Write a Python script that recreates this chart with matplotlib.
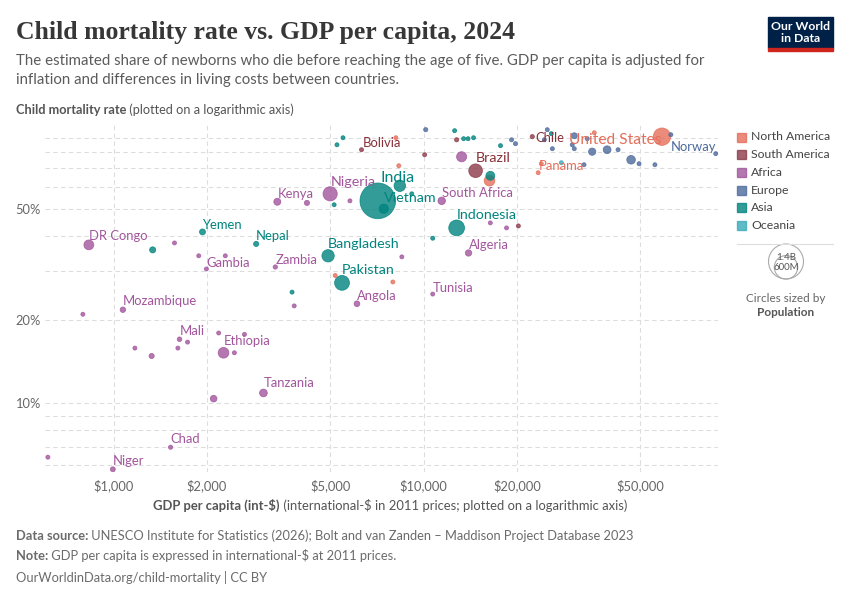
import matplotlib
matplotlib.use("Agg")
import matplotlib.pyplot as plt
from matplotlib.patches import Rectangle, Circle
import numpy as np

plt.rcParams['font.family'] = ['Lato', 'DejaVu Sans']

continents = ["North America", "South America", "Africa", "Europe", "Asia", "Oceania"]
fill_colors = {"North America": "#E56E5A", "South America": "#8C3A48", "Africa": "#A2559C",
               "Europe": "#4C6A9C", "Asia": "#00847E", "Oceania": "#38AABA"}
label_colors = {"North America": "#E56E5A", "South America": "#883039", "Africa": "#A2559C",
                "Europe": "#4C6A9C", "Asia": "#00847E", "Oceania": "#38AABA"}

# gdp per capita (int-$), child mortality (%), population (millions)
na_names = ["United States", "", "", "", "Panama", "", "", "", ""]
na_gdp = [58700, 16300, 8310, 8130, 23400, 23950, 35500, 5180, 7950]
na_mort = [90.8, 63.1, 71.4, 90.0, 67.4, 72.6, 93.8, 28.8, 27.3]
na_pop = [345, 130, 10, 6, 4.5, 6, 6, 6, 6]

sa_names = ["Bolivia", "", "", "Brazil", "Chile", ""]
sa_gdp = [6300, 10070, 12770, 14700, 22400, 20200]
sa_mort = [81.5, 78.2, 88.5, 68.5, 90.8, 43.4]
sa_pop = [12, 7, 20, 212, 20, 7]

africa_names = ["DR Congo", "Kenya", "", "Nigeria", "", "South Africa", "", "Algeria", "", "",
                "Tunisia", "Angola", "", "Zambia", "Gambia", "", "", "", "Mozambique", "",
                "Mali", "", "", "", "", "", "", "Ethiopia", "", "Tanzania", "", "Chad", "Niger",
                "", ""]
africa_gdp = [831, 3370, 4200, 4990, 5780, 11430, 13250, 13950, 16400, 18500,
              10690, 6090, 8500, 3320, 1990, 1880, 2290, 1570, 1070, 795,
              1630, 1730, 1170, 1610, 1325, 2180, 2640, 2260, 2450, 3040, 2100, 1525, 993,
              613, 3820]
africa_mort = [37.1, 53.0, 52.5, 56.6, 53.4, 53.4, 76.9, 34.7, 44.5, 42.7,
               24.7, 22.8, 33.6, 30.9, 30.4, 33.9, 33.9, 37.7, 21.7, 20.9,
               17.0, 16.6, 15.8, 15.8, 14.8, 17.9, 17.7, 15.2, 15.2, 10.9, 10.4, 6.96, 5.80,
               6.41, 22.4]
africa_pop = [110, 56, 30, 230, 12, 64, 116, 46, 8, 8,
              12, 37, 10, 21, 3, 9, 9, 7, 34, 7,
              24, 8, 14, 10, 30, 8, 7, 130, 9, 68, 50, 20, 27,
              12, 14]

europe_names = [""] * 18 + ["Norway"]
europe_gdp = [10150, 19200, 19760, 25040, 24490, 26000, 30600, 30140, 30600, 33700,
              34950, 39050, 42360, 32900, 46660, 49500, 55700, 62700, 87500]
europe_mort = [96.2, 88.5, 85.7, 96.2, 88.5, 82.2, 91.5, 84.9, 82.2, 89.3,
               80.2, 81.5, 81.5, 72.0, 75.0, 72.6, 72.0, 92.3, 78.9]
europe_pop = [20, 6, 6, 10, 6, 6, 40, 12, 6, 6,
              60, 69, 9, 10, 84, 9, 6, 6, 5.5]

asia_names = ["India", "", "Vietnam", "", "", "Yemen", "", "Nepal", "Bangladesh", "Pakistan",
              "", "Indonesia", "", "", "", "", "", "", "", "", "", ""]
asia_gdp = [7110, 8370, 7435, 5140, 9150, 1933, 1335, 2880, 4914, 5450,
            3760, 12770, 10690, 16400, 5490, 5250, 12580, 13450, 13900, 14480, 17690, 25800]
asia_mort = [53.4, 60.5, 50.0, 51.7, 56.6, 41.3, 35.6, 37.4, 33.9, 27.1,
             25.1, 42.7, 39.2, 65.7, 90.0, 84.9, 95.4, 89.3, 89.3, 90.0, 84.3, 93.1]
asia_pop = [1450, 150, 100, 10, 8, 40, 42, 30, 173, 250,
            6, 283, 9, 90, 6, 6, 12, 6, 6, 6, 6, 6]

oceania_names = [""]
oceania_gdp = [27800]
oceania_mort = [73.2]
oceania_pop = [6]

series = {
    "North America": (na_names, na_gdp, na_mort, na_pop),
    "South America": (sa_names, sa_gdp, sa_mort, sa_pop),
    "Africa": (africa_names, africa_gdp, africa_mort, africa_pop),
    "Europe": (europe_names, europe_gdp, europe_mort, europe_pop),
    "Asia": (asia_names, asia_gdp, asia_mort, asia_pop),
    "Oceania": (oceania_names, oceania_gdp, oceania_mort, oceania_pop),
}

# label placement: (dx px, dy px, ha, fontsize)
small = 9.4
label_style = {
    "DR Congo": (0, 9, "left", small), "Yemen": (0, 7, "left", small), "Nepal": (0, 8, "left", small),
    "Kenya": (0, 8, "left", small), "Nigeria": (1, 12, "left", 10.3), "India": (3, 23, "left", 11.5),
    "Vietnam": (0, 11, "left", 10.3), "South Africa": (0, 8, "left", small),
    "Brazil": (0, 13, "left", 10.3), "Bolivia": (1, 7, "left", small), "Chile": (3, -1, "left", small),
    "United States": (-1, -3, "right", 11.2), "Norway": (1, 7, "right", small),
    "Panama": (1, 7, "left", small), "Indonesia": (0, 13, "left", 10.3), "Algeria": (0, 8, "left", small),
    "Bangladesh": (0, 12, "left", 10.3), "Pakistan": (0, 13, "left", 10.3), "Zambia": (0, 7, "left", small),
    "Gambia": (0, 6, "left", small), "Angola": (0, 8, "left", small), "Tunisia": (0, 6, "left", small),
    "Mozambique": (0, 9, "left", small), "Mali": (0, 8, "left", small), "Ethiopia": (0, 12, "left", small),
    "Tanzania": (0, 10, "left", small), "Chad": (0, 8, "left", small), "Niger": (0, 8, "left", small),
}

x_ticks = [1000, 2000, 5000, 10000, 20000, 50000]
x_ticklabels = ["$1,000", "$2,000", "$5,000", "$10,000", "$20,000", "$50,000"]
y_grid = [6, 7, 8, 9, 10, 20, 30, 40, 50, 60, 70, 80, 90]
y_labelled = {10: "10%", 20: "20%", 50: "50%"}


def radius_px(pop):
    return max(17.5 * np.sqrt(pop / 1400.0), 2.0)


fig = plt.figure(figsize=(8.5, 6), dpi=100)
ax = fig.add_axes([45 / 850, 1 - 472 / 600, 673 / 850, 347 / 600])
ax.set_xscale("log")
ax.set_yscale("log")
ax.set_xlim(600, 89000)
ax.set_ylim(5.67, 100)

# all points, biggest drawn first
xs, ys, ss, cs = [], [], [], []
for cont in continents:
    names, gdp, mort, pop = series[cont]
    for g, m, p in zip(gdp, mort, pop):
        xs.append(g); ys.append(m); cs.append(fill_colors[cont])
        ss.append((2 * radius_px(p) * 0.72) ** 2)
order = np.argsort(ss)[::-1]
ax.scatter(np.array(xs)[order], np.array(ys)[order], s=np.array(ss)[order],
           c=[cs[i] for i in order], alpha=0.8, edgecolors=[cs[i] for i in order],
           linewidths=0.6, zorder=3, clip_on=False)

for cont in continents:
    names, gdp, mort, pop = series[cont]
    for n, g, m in zip(names, gdp, mort):
        if not n:
            continue
        dx, dy, ha, fs = label_style[n]
        ax.annotate(n, (g, m), xytext=(dx, dy), textcoords="offset pixels",
                    ha=ha, va="center", fontsize=fs, color=label_colors[cont], zorder=5)

ax.set_xticks(x_ticks)
ax.set_xticklabels(x_ticklabels)
ax.xaxis.set_minor_locator(matplotlib.ticker.NullLocator())
ax.set_yticks(y_grid)
ax.set_yticklabels([y_labelled.get(v, "") for v in y_grid])
ax.yaxis.set_minor_locator(matplotlib.ticker.NullLocator())
ax.tick_params(length=0, labelsize=9.3, labelcolor="#666666")
ax.tick_params(axis="x", pad=5)
ax.tick_params(axis="y", pad=3)
ax.grid(True, color="#dddddd", linestyle=(0, (4, 3)), linewidth=0.8)
ax.set_axisbelow(True)
for sp in ax.spines.values():
    sp.set_visible(False)

# overlay in pixel units for text, legend and logo
ov = fig.add_axes([0, 0, 1, 1], zorder=-1)
ov.set_xlim(0, 850)
ov.set_ylim(600, 0)
ov.axis("off")
renderer = fig.canvas.get_renderer()


def parts(x, y, bold, rest, size, color, center=False):
    t1 = ov.text(x, y, bold, fontsize=size, fontweight="bold", color=color, va="center")
    t2 = ov.text(x, y, rest, fontsize=size, color=color, va="center")
    w1 = t1.get_window_extent(renderer=renderer).width
    w2 = t2.get_window_extent(renderer=renderer).width
    x0 = x - (w1 + w2) / 2 if center else x
    t1.set_x(x0)
    t2.set_x(x0 + w1)


ov.text(16, 32, "Child mortality rate vs. GDP per capita, 2024", fontsize=18.5,
        family="Liberation Serif", fontweight="bold", color="#373737", va="center")
ov.text(16, 61, "The estimated share of newborns who die before reaching the age of five. GDP per capita is adjusted for",
        fontsize=10.8, color="#5b5b5b", va="center")
ov.text(16, 80, "inflation and differences in living costs between countries.",
        fontsize=10.8, color="#5b5b5b", va="center")
parts(16, 110, "Child mortality rate", " (plotted on a logarithmic axis)", 9.2, "#555555")
parts(390, 505, "GDP per capita (int-$)", " (international-$ in 2011 prices; plotted on a logarithmic axis)",
      9.4, "#555555", center=True)
parts(16, 536, "Data source:", " UNESCO Institute for Statistics (2026); Bolt and van Zanden \u2013 Maddison Project Database 2023",
      9.3, "#6b6b6b")
parts(16, 556, "Note:", " GDP per capita is expressed in international-$ at 2011 prices.", 9.3, "#6b6b6b")
ov.text(16, 577, "OurWorldinData.org/child-mortality | CC BY", fontsize=9.3, color="#6b6b6b", va="center")

# logo
ov.add_patch(Rectangle((768, 17), 65, 31, color="#002147"))
ov.add_patch(Rectangle((768, 48), 65, 3, color="#CE261E"))
ov.text(800.5, 32.5, "Our World\nin Data", fontsize=8.8, fontweight="bold", color="white",
        ha="center", va="center", linespacing=1.0)

# colour legend
for i, cont in enumerate(continents):
    yy = 137 + i * 17.7
    ov.add_patch(Rectangle((737, yy - 4.5), 9, 9, color=fill_colors[cont], alpha=0.8))
    ov.text(751, yy, cont, fontsize=8.8, color="#444444", va="center")
ov.plot([737, 833], [244, 244], color="#dddddd", linewidth=0.8)

# size legend
for r, lab, ly in [(17.5, "1.4B", 257), (11.7, "600M", 268)]:
    ov.add_patch(Circle((786, 279 - r), r, fill=False, edgecolor="#aaaaaa", linewidth=0.8))
    ov.text(786, ly, lab, fontsize=7, color="#555555", ha="center", va="center")
ov.text(786, 299, "Circles sized by", fontsize=8.5, color="#666666", ha="center", va="center")
ov.text(786, 313, "Population", fontsize=8.5, fontweight="bold", color="#555555", ha="center", va="center")

fig.savefig("out.png", dpi=100, facecolor="white")
